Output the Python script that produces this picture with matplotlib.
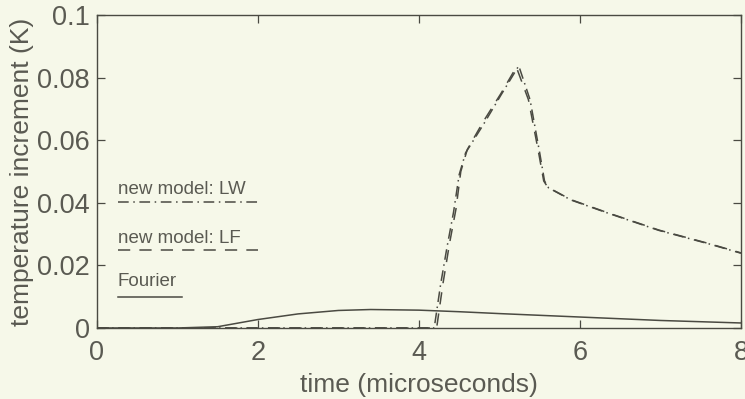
import matplotlib

matplotlib.use("Agg")
import matplotlib.pyplot as plt

# time in microseconds, temperature increment in K
lf_t = [0.0, 4.22, 4.30, 4.38, 4.46, 4.52, 4.60, 4.80, 5.02, 5.21, 5.36, 5.48, 5.55, 5.60, 5.89, 6.36, 6.98, 7.60, 8.0]
lf_y = [0.0, 0.0, 0.0144, 0.027, 0.038, 0.050, 0.057, 0.066, 0.075, 0.0834, 0.073, 0.057, 0.047, 0.045, 0.041, 0.0367, 0.0313, 0.027, 0.0240]

lw_t = [0.0, 4.19, 4.27, 4.35, 4.43, 4.50, 4.58, 4.80, 5.02, 5.24, 5.38, 5.50, 5.56, 5.61, 5.89, 6.36, 6.98, 7.60, 8.0]
lw_y = [0.0, 0.0, 0.0140, 0.026, 0.037, 0.049, 0.056, 0.065, 0.0745, 0.0838, 0.073, 0.056, 0.047, 0.0448, 0.0409, 0.0366, 0.0312, 0.0269, 0.0239]

fourier_t = [0.0, 1.0, 1.5, 2.0, 2.5, 3.0, 3.4, 4.0, 4.5, 5.0, 6.0, 7.0, 8.0]
fourier_y = [0.0, 0.0, 0.0004, 0.0027, 0.0045, 0.0056, 0.0059, 0.0057, 0.0052, 0.0046, 0.0035, 0.0024, 0.0016]

legend_labels = ["new model: LW", "new model: LF", "Fourier"]
legend_text_y = [0.0444, 0.0285, 0.0148]
legend_line_y = [0.0403, 0.0250, 0.0099]
legend_line_x = [(0.26, 2.0), (0.26, 2.0), (0.26, 1.06)]

x_ticks = [0, 2, 4, 6, 8]
y_ticks = [0, 0.02, 0.04, 0.06, 0.08, 0.1]
y_tick_labels = ["0", "0.02", "0.04", "0.06", "0.08", "0.1"]

bg = "#f6f8e9"
ink = "#4a4a42"
text_c = "#5a5a52"

plt.rcParams["font.family"] = ["Liberation Sans", "DejaVu Sans"]

fig = plt.figure(figsize=(7.45, 3.99), dpi=100, facecolor=bg)
ax = fig.add_axes([0.130, 0.178, 0.8646, 0.784], facecolor=bg)

dashdot = (0, (7, 3, 1, 3))
dashed = (0, (8, 6))

ax.plot(lw_t, lw_y, color=ink, lw=1.1, linestyle=dashdot)
ax.plot(lf_t, lf_y, color=ink, lw=1.1, linestyle=dashed)
ax.plot(fourier_t, fourier_y, color=ink, lw=1.1, linestyle="-")

styles = [dashdot, dashed, "-"]
for label, ty, ly, (x0, x1), st in zip(legend_labels, legend_text_y, legend_line_y, legend_line_x, styles):
    ax.text(0.26, ty, label, fontsize=13.5, color=text_c, va="center", ha="left")
    ax.plot([x0, x1], [ly, ly], color=ink, lw=1.1, linestyle=st)

ax.set_xlim(0, 8)
ax.set_ylim(0, 0.1)
ax.set_xticks(x_ticks)
ax.set_yticks(y_ticks)
ax.set_yticklabels(y_tick_labels)
ax.tick_params(direction="in", length=6, width=0.9, colors=ink, labelcolor=text_c,
               labelsize=19.5, top=True, right=True)
ax.tick_params(axis="x", pad=9)
ax.tick_params(axis="y", pad=5)
for s in ax.spines.values():
    s.set_color(ink)
    s.set_linewidth(1.0)

ax.set_xlabel("time (microseconds)", fontsize=19, color=text_c, labelpad=5)
ax.set_ylabel("temperature increment (K)", fontsize=19, color=text_c, labelpad=2)

fig.savefig("out.png", dpi=100, facecolor=bg)
